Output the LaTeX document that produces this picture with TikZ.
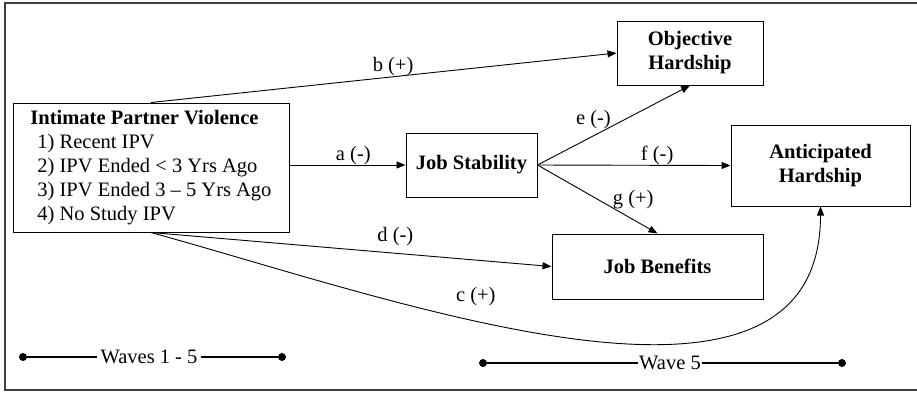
\documentclass[tikz,border=0pt]{standalone}
\usepackage{fontspec}
\setmainfont{Liberation Serif}
\usetikzlibrary{arrows.meta}

\begin{document}
\begin{tikzpicture}
[x=1pt,y=-1pt,
font=\fontsize{20.5}{24}\selectfont,
boxx/.style={rectangle,draw=black,line width=1pt,font=\fontsize{20.5}{24}\selectfont\bfseries,align=center},
link/.style={-{Triangle[length=9pt,width=7pt]},draw=black,line width=0.9pt},
lab/.style={inner sep=0pt},
dot/.style={circle,fill=black,inner sep=0pt,minimum size=8pt},
wave/.style={line width=1.6pt}]

\useasboundingbox (0,0) rectangle (917,392);
\clip (0,0) rectangle (917,392);
\draw [line width=1.5pt,draw=black!75] (5,3) rectangle (925,390);

\node at (151,167.5) [boxx,font=\fontsize{20.5}{24}\selectfont,align=left,minimum width=276pt,minimum height=129pt] (ipv)
  {\textbf{Intimate Partner Violence}\\
   \hspace*{7pt}1) Recent IPV\\
   \hspace*{7pt}2) IPV Ended < 3 Yrs Ago\\
   \hspace*{7pt}3) IPV Ended 3 -- 5 Yrs Ago\\
   \hspace*{7pt}4) No Study IPV};
\node at (471.5,165) [boxx,minimum width=131pt,minimum height=64pt] (stab) {Job Stability};
\node at (690,53)    [boxx,minimum width=146pt,minimum height=64pt] (obj)  {Objective\\Hardship};
\node at (820.5,165.5) [boxx,minimum width=179pt,minimum height=81pt] (anti) {Anticipated\\Hardship};
\node at (657.5,266.5) [boxx,minimum width=211pt,minimum height=65pt] (ben) {Job Benefits};

\draw [link] (ipv.north) to node[lab,above,pos=.52] {b (+)} (obj.west);
\draw [link] (ipv.east |- stab.west) to node[lab,above,pos=.55] {a (-)} (stab.west);
\draw [link] (stab.east) to node[lab,above left,pos=.47,xshift=2pt,yshift=-2pt] {e (-)} (obj.south);
\draw [link] (stab.east) to node[lab,above,pos=.62] {f (-)} (anti.west);
\draw [link] (stab.east) to node[lab,above right,pos=.6,xshift=3pt,yshift=-3pt] {g (+)} (ben.north);
\draw [link] (ipv.south) to node[lab,above,pos=.61,yshift=7pt] {d (-)} (ben.west);
\draw [link] (ipv.south) .. controls +(247,68) and +(0,249) .. node[lab,above=14pt,pos=.38] {c (+)} (anti.south);

\node at (23,357)  [dot] (w1l) {};
\node at (282,357) [dot] (w1r) {};
\node at (149,357) [inner xsep=3pt] (w1) {Waves 1 - 5};
\draw [wave] (w1l) -- (w1) -- (w1r);
\node at (483,363) [dot] (w5l) {};
\node at (842,363) [dot] (w5r) {};
\node at (670,363) [inner xsep=1pt] (w5) {Wave 5};
\draw [wave] (w5l) -- (w5) -- (w5r);
\end{tikzpicture}
\end{document}
